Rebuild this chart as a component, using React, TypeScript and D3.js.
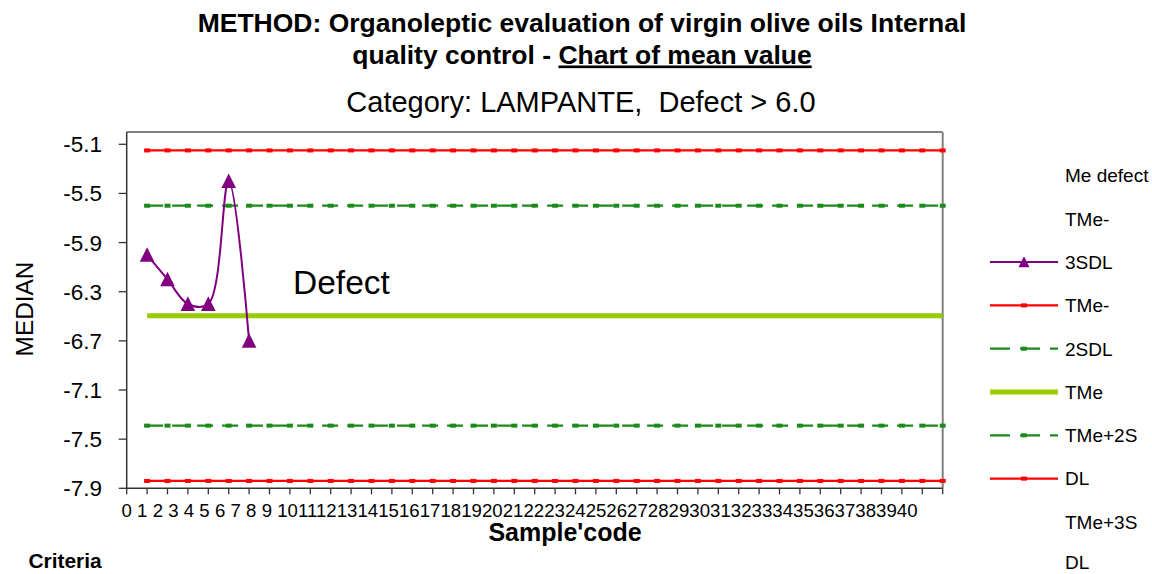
import React from "react";
import * as d3 from "d3";

// sample codes on the category axis and their tick labels
const sampleCodes = d3.range(1, 41);
const tickLabels = d3.range(0, 41).map(String);
const yTicks = [-5.1, -5.5, -5.9, -6.3, -6.7, -7.1, -7.5, -7.9];

// median of the defect for the samples tested so far
const medianValues = [-6.0, -6.2, -6.4, -6.4, -5.4, -6.7];

// control limits (constant over all sample codes)
const limitNames = ["TMe-3SDL", "TMe-2SDL", "TMe", "TMe+2SDL", "TMe+3SDL"];
const limitValues = [-7.84, -7.39, -6.495, -5.6, -5.15];
const limitKinds = ["red", "green", "lime", "green", "red"];

// legend text as it wraps in the original
const legendRows = ["Me defect", "TMe-", "3SDL", "TMe-", "2SDL", "TMe", "TMe+2S", "DL", "TMe+3S", "DL"];
const legendSymbols = ["purple", "red", "green", "lime", "green", "red"];

const FONT = "Arial, 'Liberation Sans', sans-serif";
const RED = "#ff0000";
const GREEN = "#1a8a1a";
const LIME = "#99cc00";
const PURPLE = "#800080";

const x = d3.scaleLinear().domain([0, 40]).range([126.7, 942.7]);
const y = d3.scaleLinear().domain([-7.9, -5.0]).range([488.3, 132]);

const tri = (cx: number, cy: number, s: number) =>
  `M${cx},${cy - s * 1.05}L${cx + s},${cy + s * 0.95}L${cx - s},${cy + s * 0.95}Z`;

function LimitLine({ value, kind }: { value: number; kind: string }) {
  const yy = y(value);
  if (kind === "lime") {
    return <line x1={x(1)} x2={x(40)} y1={yy} y2={yy} stroke={LIME} strokeWidth={5} />;
  }
  const col = kind === "red" ? RED : GREEN;
  return (
    <g>
      <line
        x1={x(1)}
        x2={x(40)}
        y1={yy}
        y2={yy}
        stroke={col}
        strokeWidth={2.2}
        strokeDasharray={kind === "green" ? "16,9" : undefined}
      />
      {sampleCodes.map((c) => (
        <rect key={c} x={x(c) - 3} y={yy - 2} width={6} height={4} fill={col} />
      ))}
    </g>
  );
}

function LegendSymbol({ kind, cy }: { kind: string; cy: number }) {
  const x0 = 990, x1 = 1058, mid = 1024;
  if (kind === "purple") {
    return (
      <g>
        <line x1={x0} x2={x1} y1={cy} y2={cy} stroke={PURPLE} strokeWidth={2} />
        <path d={tri(mid, cy, 5.5)} fill={PURPLE} />
      </g>
    );
  }
  if (kind === "lime") {
    return <line x1={x0} x2={x1} y1={cy} y2={cy} stroke={LIME} strokeWidth={5} />;
  }
  const col = kind === "red" ? RED : GREEN;
  return (
    <g>
      <line
        x1={x0}
        x2={x1}
        y1={cy}
        y2={cy}
        stroke={col}
        strokeWidth={2.2}
        strokeDasharray={kind === "green" ? "20,10" : undefined}
      />
      <rect x={mid - 3} y={cy - 2} width={6} height={4} fill={col} />
    </g>
  );
}

export default function App() {
  const medianLine = d3
    .line<number>()
    .x((_, i) => x(i + 1))
    .y((d) => y(d))
    .curve(d3.curveCatmullRom.alpha(0.5));

  const xLabelText = tickLabels.map((l) => (l.length === 1 ? l + " " : l)).join("");

  return (
    <svg
      width={1152}
      height={574}
      style={{ position: "absolute", left: 0, top: 0, background: "#fff" }}
      fontFamily={FONT}
    >
      {/* titles */}
      <text x={582} y={32} textAnchor="middle" fontSize={26.5} fontWeight="bold">
        METHOD: Organoleptic evaluation of virgin olive oils Internal
      </text>
      <text x={582} y={63.5} textAnchor="middle" fontSize={26.5} fontWeight="bold">
        quality control - <tspan style={{ textDecoration: "underline" }}>Chart of mean value</tspan>
      </text>
      <text x={581} y={111.5} textAnchor="middle" fontSize={29} xmlSpace="preserve">
        {"Category: LAMPANTE,  Defect > 6.0"}
      </text>

      {/* plot frame */}
      <line x1={x(0)} x2={x(40)} y1={y(-5.0)} y2={y(-5.0)} stroke="#808080" strokeWidth={2} />
      <line x1={x(40)} x2={x(40)} y1={y(-5.0)} y2={y(-7.9)} stroke="#808080" strokeWidth={2} />

      {/* control limits */}
      {limitValues.map((v, i) => (
        <LimitLine key={limitNames[i]} value={v} kind={limitKinds[i]} />
      ))}

      {/* median series */}
      <path d={medianLine(medianValues) || ""} fill="none" stroke={PURPLE} strokeWidth={2} />
      {medianValues.map((v, i) => (
        <path key={i} d={tri(x(i + 1), y(v), 7.3)} fill={PURPLE} />
      ))}

      <text x={293} y={293.5} fontSize={33.5}>
        Defect
      </text>

      {/* y axis */}
      <line x1={x(0)} x2={x(0)} y1={y(-5.0)} y2={y(-7.9)} stroke="#333" strokeWidth={1.5} />
      {yTicks.map((t) => (
        <g key={t}>
          <line x1={x(0) - 8} x2={x(0)} y1={y(t)} y2={y(t)} stroke="#333" strokeWidth={1.3} />
          <text x={102} y={y(t) + 8} textAnchor="end" fontSize={22.5}>
            {t.toFixed(1)}
          </text>
        </g>
      ))}
      <text transform={`translate(33,309) rotate(-90)`} textAnchor="middle" fontSize={24.4}>
        MEDIAN
      </text>

      {/* x axis */}
      <line x1={x(0)} x2={x(40)} y1={y(-7.9)} y2={y(-7.9)} stroke="#333" strokeWidth={1.5} />
      {tickLabels.map((_, i) => (
        <line key={i} x1={x(i)} x2={x(i)} y1={y(-7.9)} y2={y(-7.9) + 6} stroke="#333" strokeWidth={1.3} />
      ))}
      <text x={x(0) - 5.2} y={516.5} fontSize={18.6} xmlSpace="preserve" textLength={796} lengthAdjust="spacing">
        {xLabelText}
      </text>
      <text x={565} y={541} textAnchor="middle" fontSize={25} fontWeight="bold">
        Sample'code
      </text>
      <text x={28.5} y={568} fontSize={20.9} fontWeight="bold">
        Criteria
      </text>

      {/* legend */}
      {legendRows.map((r, i) => (
        <text key={i} x={1065} y={Math.min(182.3 + i * 43.3, 569)} fontSize={19}>
          {r}
        </text>
      ))}
      {legendSymbols.map((k, i) => (
        <LegendSymbol key={i} kind={k} cy={182.3 + (i + 2) * 43.3 - 6.8} />
      ))}
    </svg>
  );
}
